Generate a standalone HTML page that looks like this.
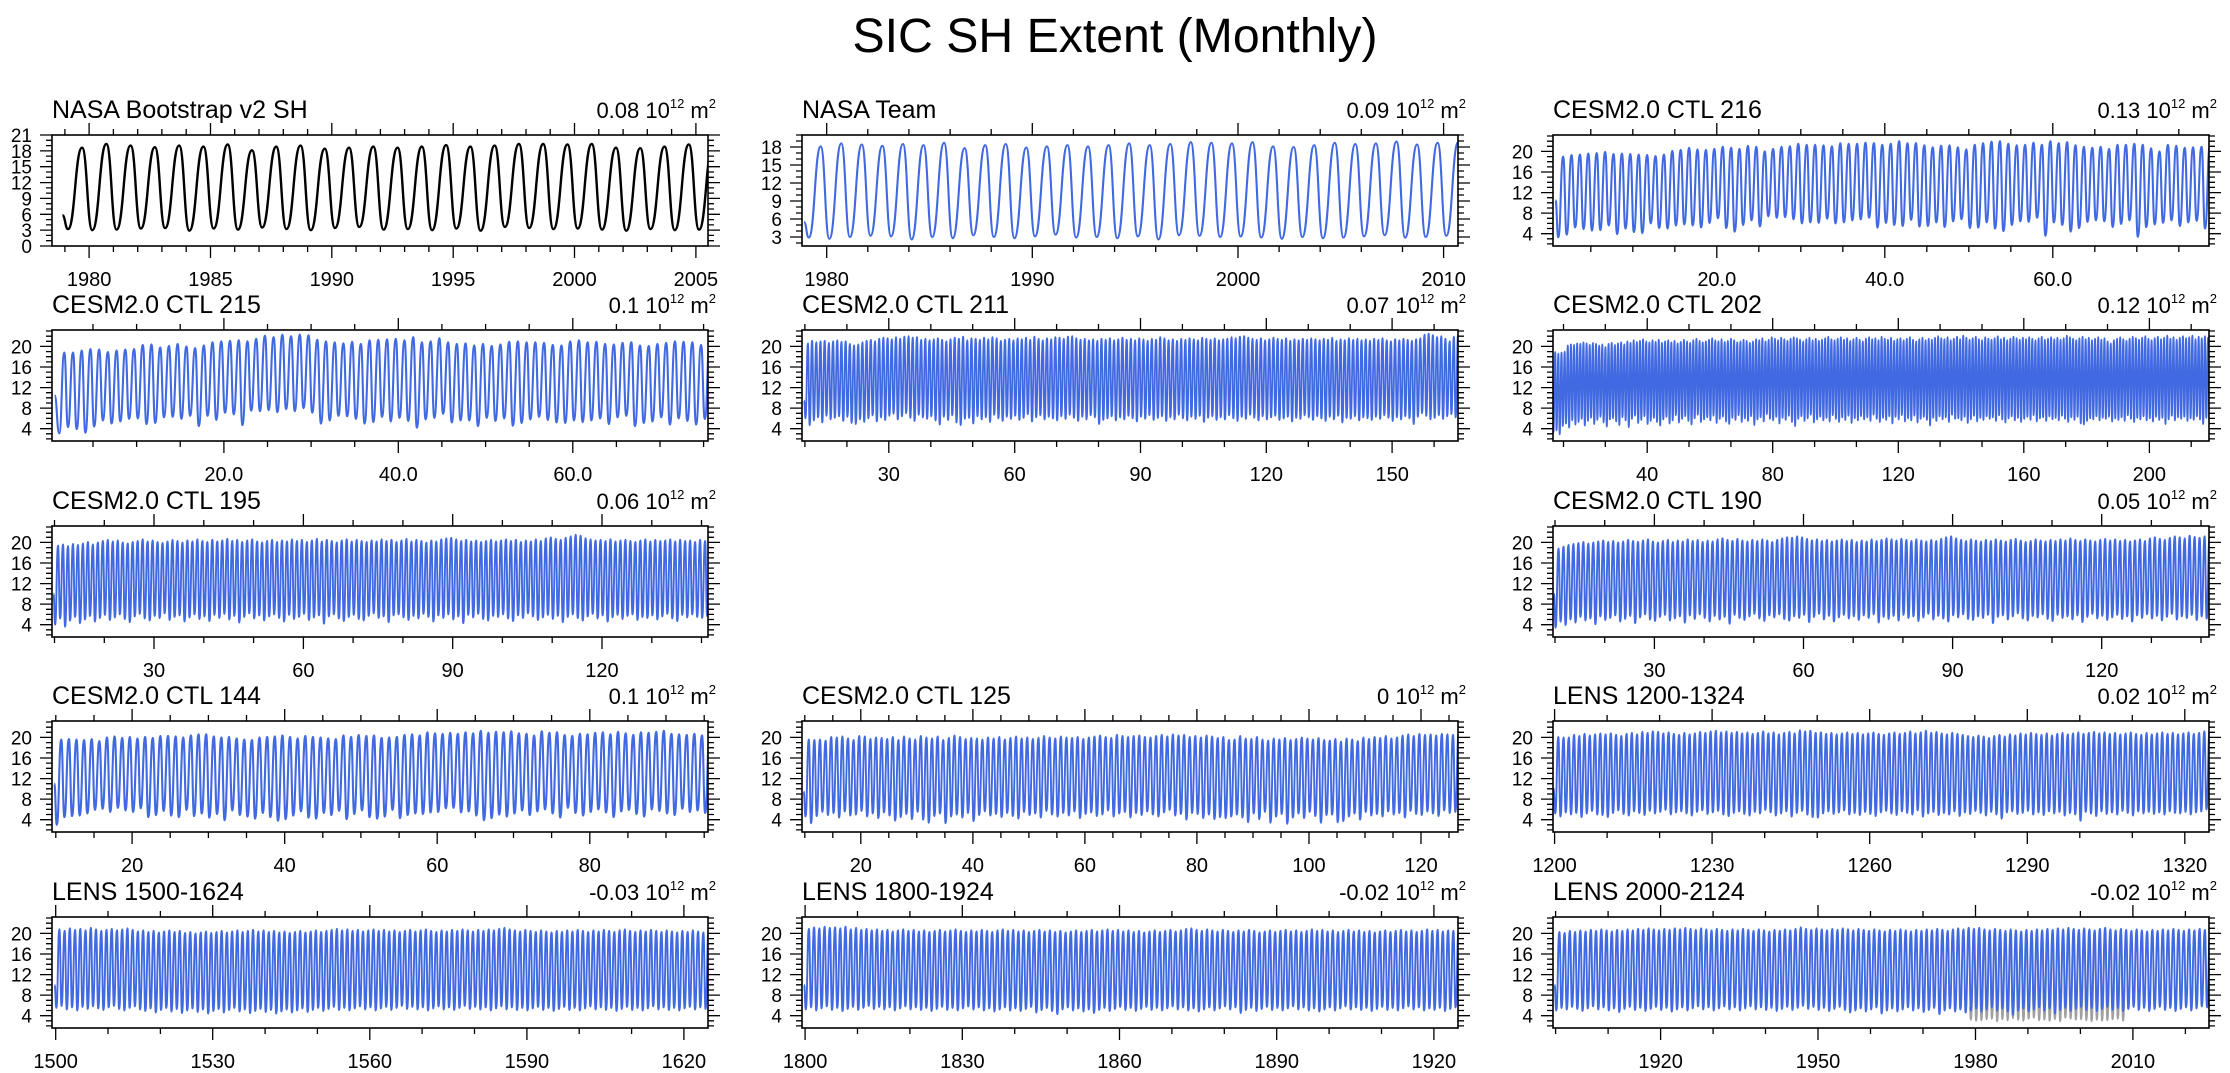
<!DOCTYPE html>
<html><head><meta charset="utf-8"><title>SIC SH Extent (Monthly)</title>
<style>
html,body{margin:0;padding:0;background:#fff;}
svg{display:block;font-family:"Liberation Sans",Arial,sans-serif;}
</style></head>
<body>
<svg id="fig" width="2230" height="1073" viewBox="0 0 2230 1073">
<rect x="0" y="0" width="2230" height="1073" fill="#fff"/>
<text x="1115" y="52" font-size="48" text-anchor="middle" textLength="525" lengthAdjust="spacingAndGlyphs">SIC SH Extent (Monthly)</text>
</svg>
<script>
// ---------- data (per-year seasonal minima / maxima, 10^12 m^2) ----------
const bsTroughs=[3.2,3.0,3.1,3.3,3.4,2.9,3.3,3.1,3.5,3.2,3.0,3.4,3.6,3.1,3.2,3.0,3.3,2.9,3.6,3.4,3.2,3.3,3.1,2.9,3.2,3.0,3.1];
const bsPeaks=[18.6,19.3,19.0,18.7,19.0,18.8,19.2,18.1,18.8,19.0,18.4,18.6,18.8,18.6,18.8,19.1,18.8,19.0,19.3,19.3,19.2,19.3,18.6,18.5,18.8,19.2,19.0];
const ntTroughs=[2.9,2.7,3.0,3.2,3.1,2.6,3.0,2.8,3.3,3.0,2.8,3.1,3.4,2.9,3.0,2.8,3.1,2.6,3.3,3.2,3.0,3.1,2.9,2.7,3.0,2.8,2.9,3.1,3.3,2.9,3.0,3.2];
const ntPeaks=[18.1,18.6,18.4,18.2,18.5,18.3,18.7,17.8,18.3,18.5,17.9,18.1,18.3,18.1,18.3,18.6,18.3,18.5,18.8,18.7,18.6,18.8,18.1,18.0,18.3,18.7,18.5,18.6,18.9,18.4,18.7,18.8];
const c216Peaks=[19.0,19.3,19.4,19.6,19.7,19.9,19.5,19.6,19.5,19.4,19.3,19.1,19.4,20.1,20.3,20.7,20.4,20.3,20.5,20.9,20.7,20.5,21.1,20.9,20.0,20.5,20.9,21.0,21.5,21.3,21.3,21.2,21.0,21.6,21.5,21.5,21.7,21.6,21.3,21.5,22.0,21.6,21.6,21.2,20.8,21.1,21.2,20.8,20.4,21.3,21.6,21.9,22.0,21.5,21.2,21.3,21.7,21.3,22.0,21.6,21.8,21.2,20.9,20.7,20.9,20.5,21.3,21.3,21.5,21.3,20.6,20.0,21.3,21.1,20.7,20.8,20.9,21.2];
const c216Troughs=[3.3,3.8,5.2,4.9,4.6,4.7,5.6,3.9,5.0,4.3,4.1,6.0,5.1,5.0,5.6,5.8,5.6,5.2,6.1,7.0,5.1,4.4,5.7,6.6,5.4,7.4,7.1,7.2,6.8,6.0,6.2,6.1,6.9,6.0,6.2,6.6,6.8,7.1,5.2,6.1,5.7,5.5,6.7,5.4,5.5,6.2,5.3,6.4,6.8,5.1,5.2,6.2,5.0,4.5,5.7,6.4,6.3,7.1,3.6,6.2,5.7,4.4,5.1,6.3,6.6,6.4,5.3,5.9,6.6,3.4,5.3,5.8,6.1,6.6,5.5,6.2,6.5,5.0];
const c215Peaks=[18.8,18.8,19.2,19.5,19.4,18.9,19.2,19.4,19.5,20.3,20.4,19.8,20.1,20.5,20.0,19.7,20.2,20.8,21.0,21.1,21.2,21.0,21.5,22.1,21.8,22.3,22.0,22.3,22.2,21.3,21.0,20.8,20.6,20.9,20.5,21.2,21.3,21.4,21.5,21.2,21.8,20.8,21.0,21.6,20.8,20.5,20.6,20.2,20.5,20.1,20.4,20.9,21.0,20.8,20.8,20.7,20.3,20.2,21.0,21.2,20.8,20.9,20.5,20.4,20.7,20.8,20.2,20.1,20.5,20.7,21.0,20.9,20.8,20.3,20.9,20.9];
const c215Troughs=[3.1,4.3,3.9,3.2,4.4,5.6,5.0,5.4,5.9,6.0,4.9,5.1,6.2,6.3,5.9,6.5,4.5,6.5,5.7,7.1,6.8,4.7,7.5,7.4,7.6,7.2,7.8,7.4,8.0,7.1,5.0,5.6,6.5,6.4,5.9,5.0,5.3,6.3,5.4,6.1,5.5,4.2,5.8,6.1,6.9,5.2,5.6,5.6,4.5,6.1,5.5,6.0,4.6,5.1,5.8,6.3,5.7,5.2,5.1,5.6,5.3,5.6,6.0,4.9,6.2,6.5,4.5,5.1,5.4,6.2,4.8,6.0,5.5,4.8,5.9,4.7];
const c211Peaks=[20.6,21.1,20.8,21.0,21.1,20.7,21.0,21.2,20.9,21.0,20.5,20.2,20.4,20.8,21.1,21.3,21.0,21.5,21.7,21.6,21.4,21.8,21.5,21.9,22.0,21.7,21.8,21.3,21.5,21.2,21.4,21.6,21.3,21.0,21.4,21.7,21.5,21.9,21.2,21.6,21.5,21.3,21.7,21.4,21.8,21.6,21.1,21.3,21.5,21.2,21.6,21.4,21.7,21.3,21.9,21.5,21.2,21.6,21.4,21.8,21.7,21.5,21.9,22.0,21.6,21.3,21.5,21.2,21.4,21.1,21.5,21.3,21.6,21.2,21.4,21.7,21.3,21.5,21.2,21.6,21.4,21.1,21.5,21.3,21.8,21.6,21.2,21.4,21.1,21.5,21.3,21.6,21.4,21.2,21.7,21.5,21.3,21.6,21.2,21.4,21.5,21.8,21.6,21.9,22.0,21.7,21.5,21.3,21.6,21.2,21.4,21.7,21.5,21.3,21.6,21.1,21.4,21.2,21.5,21.3,21.6,21.4,21.2,21.5,21.3,21.7,21.1,21.4,21.2,21.6,21.3,21.5,21.2,21.4,21.1,21.5,21.3,21.6,21.2,21.0,21.4,21.2,21.5,21.3,21.1,21.4,21.6,22.3,22.5,22.2,21.8,22.0,21.5,21.0,21.9,22.2];
const c211Troughs=[6.0,4.7,5.6,6.2,5.2,6.5,5.8,6.1,6.4,5.5,6.3,5.1,4.9,5.8,5.3,6.0,6.6,5.4,6.2,5.7,6.5,6.9,5.8,6.4,7.0,6.1,5.5,6.7,6.2,5.9,6.4,5.6,4.8,6.3,5.7,6.6,5.2,4.7,5.9,6.1,5.0,6.4,5.8,6.2,5.3,6.7,6.0,5.5,6.3,5.9,6.5,5.7,6.1,6.8,5.4,6.2,6.6,5.8,6.3,6.0,5.6,6.4,5.9,6.7,6.1,5.5,6.3,5.8,6.6,6.2,4.9,5.7,6.0,6.4,5.6,6.2,5.8,6.5,6.0,5.4,6.3,5.9,6.6,5.7,6.1,6.4,5.5,6.2,5.8,6.7,6.0,5.6,6.3,5.9,6.5,5.3,6.1,6.4,5.7,6.2,5.8,6.6,6.0,5.5,6.3,5.9,6.7,6.1,5.6,6.4,5.8,6.2,6.5,5.7,6.0,6.3,5.4,6.1,5.9,6.6,6.2,5.7,6.4,6.0,5.5,6.3,5.8,6.5,5.2,6.1,5.9,6.4,5.6,6.2,6.0,5.7,6.3,5.9,6.6,6.1,5.5,6.2,5.8,6.4,6.0,4.9,6.3,7.0,6.5,5.8,6.1,6.6,5.9,6.4,6.8,6.2];
const c202Peaks=[18.9,18.6,18.8,19.0,20.2,20.4,20.3,20.6,20.5,20.8,20.6,20.3,20.7,20.5,20.2,20.4,19.9,20.5,20.7,20.3,20.6,20.8,20.4,21.0,20.7,21.2,20.9,21.1,21.4,21.0,20.8,21.2,20.9,21.3,20.7,21.0,21.2,20.8,21.1,20.6,20.9,21.3,21.0,20.7,21.2,21.5,21.1,20.8,21.0,21.3,21.6,21.2,21.0,21.4,20.9,21.1,21.5,21.2,20.8,21.0,21.3,21.1,20.7,21.0,21.4,21.2,21.6,21.0,21.3,21.8,21.5,21.2,21.7,21.4,21.1,21.5,21.8,21.6,21.3,21.0,21.4,21.7,21.2,21.5,21.1,21.3,21.6,21.9,21.4,21.2,21.5,21.8,21.3,21.6,21.1,21.4,21.7,21.3,21.0,21.5,21.8,21.4,21.6,21.2,21.9,21.5,21.3,21.7,21.1,21.4,21.6,21.2,21.5,21.8,21.3,21.0,21.4,21.7,21.2,21.5,21.3,21.7,22.0,21.6,21.4,21.8,21.2,21.5,21.9,21.4,22.1,21.7,21.3,21.6,21.9,21.4,21.2,21.8,21.5,21.3,21.6,22.0,21.4,21.7,21.2,21.5,21.9,21.6,21.3,21.7,21.4,21.8,21.5,21.2,21.6,21.9,21.3,21.5,21.8,21.4,21.7,21.3,21.6,22.1,21.8,21.5,21.2,21.6,21.9,21.4,21.7,21.2,21.5,21.8,21.3,21.6,21.0,20.6,21.2,21.5,21.8,21.4,21.1,21.5,21.9,21.6,21.3,21.7,22.0,21.5,21.2,21.6,21.9,21.4,21.7,22.1,21.5,21.8,21.3,21.7,22.0,21.6,21.8,22.1,21.4,21.9,21.6,22.0,21.7,21.8];
const c202Troughs=[3.3,3.7,2.9,4.5,5.0,4.2,5.6,4.8,5.3,5.9,4.6,5.5,6.1,4.9,5.7,6.3,5.2,4.4,5.8,6.0,5.4,4.7,6.2,5.6,4.3,5.9,6.5,5.1,5.7,6.4,4.9,5.5,6.1,5.3,4.6,5.8,6.3,5.0,5.6,6.6,5.2,5.9,6.4,5.5,4.8,6.0,6.7,5.3,5.8,6.2,5.6,6.5,5.1,5.9,6.3,5.4,4.9,6.1,5.7,6.6,5.3,6.0,5.5,6.4,4.7,5.8,6.2,5.4,6.8,5.9,5.6,6.3,5.0,6.1,5.7,6.5,5.3,4.5,5.9,6.4,5.5,6.0,6.7,5.2,5.8,6.3,5.6,6.1,5.4,6.6,5.9,5.3,6.2,5.7,6.5,5.1,6.0,5.6,6.4,5.8,6.2,5.5,6.7,5.9,5.3,6.1,5.7,6.4,5.0,6.3,5.8,6.6,5.4,6.0,5.6,6.5,5.2,5.9,6.3,5.7,4.6,6.1,5.5,6.4,5.8,6.2,5.3,6.7,5.9,6.0,5.6,6.3,5.1,5.8,6.5,5.4,6.1,5.7,6.4,5.9,6.2,5.5,6.6,5.8,5.2,6.0,6.4,5.6,6.1,5.3,5.9,6.3,5.7,6.6,5.4,6.0,6.2,5.5,6.4,5.8,6.1,5.6,6.5,5.9,5.3,6.2,5.7,6.3,5.0,4.8,5.5,6.0,5.8,6.4,5.6,6.1,5.9,6.3,5.4,6.0,5.7,6.2,5.5,6.6,5.9,5.3,6.1,5.8,6.4,5.6,6.0,5.4,6.3,5.7,6.1,4.9,5.8,6.5,5.6,6.2,5.9,6.3,5.5,6.0,5.7,6.4,5.8,4.9,6.1,5.6];
const c195Peaks=[19.4,19.6,19.3,19.7,19.5,19.8,20.1,19.6,20.0,20.3,20.5,20.2,20.4,20.0,19.8,20.1,20.3,20.6,20.2,20.4,20.1,19.9,20.2,20.5,20.3,20.0,20.4,20.2,20.6,20.3,20.1,20.5,20.2,20.4,20.7,20.3,20.5,20.1,20.4,20.6,20.2,20.0,20.3,20.5,20.1,20.4,20.2,20.6,20.3,20.5,20.1,20.4,20.7,20.2,20.5,20.3,20.0,20.4,20.6,20.2,20.5,20.3,20.1,20.4,20.2,20.6,20.3,20.5,20.1,20.4,20.7,20.2,20.5,20.3,20.0,20.4,20.2,20.6,20.8,20.9,20.6,20.3,20.5,20.2,20.4,20.1,20.3,20.5,20.2,20.4,20.6,20.3,20.5,20.1,20.4,20.2,20.6,20.3,20.8,21.0,20.7,20.5,20.9,21.2,21.5,21.3,20.8,20.6,20.4,20.5,20.3,20.6,20.2,20.4,20.5,20.3,20.1,20.4,20.6,20.2,20.5,20.3,20.4,20.6,20.2,20.5,20.3,20.4,20.1,20.5,20.3,20.4];
const c195Troughs=[4.0,5.2,3.6,4.8,5.5,4.3,5.0,5.7,4.6,5.3,5.9,4.9,5.4,6.0,5.1,4.5,5.6,6.1,5.2,4.8,5.7,5.3,6.2,4.9,5.5,5.8,4.6,5.4,6.0,5.1,5.6,4.7,5.9,5.3,6.1,5.0,5.7,4.4,5.5,6.2,5.2,5.8,4.8,5.6,6.0,5.3,4.6,5.9,5.1,5.5,6.1,4.9,5.4,5.8,4.2,5.6,6.0,5.2,4.7,5.5,5.9,5.1,4.8,5.7,6.2,5.3,5.6,4.5,5.8,6.0,5.4,4.9,5.7,5.2,6.1,5.5,4.6,5.8,5.3,6.0,5.0,5.6,4.3,5.9,5.4,6.1,5.1,4.8,5.7,5.5,6.0,5.2,4.7,5.8,5.3,6.2,5.6,4.9,5.4,5.9,5.1,5.7,4.5,5.5,6.0,5.3,4.8,5.6,6.1,5.2,5.8,4.6,5.4,5.9,5.1,5.7,6.0,4.9,5.5,5.3,5.8,5.0,5.6,6.1,5.2,4.7,5.9,5.4,6.0,5.5,5.3,5.7];
const c190Peaks=[18.8,19.2,19.5,19.7,19.9,20.1,19.8,20.0,20.2,20.4,20.1,20.3,20.0,20.2,20.5,20.3,20.1,20.4,20.6,20.2,20.0,20.3,20.5,20.1,20.4,20.2,20.6,20.3,20.5,20.1,20.4,20.2,20.6,20.8,20.5,20.3,20.7,20.4,20.2,20.5,20.3,20.6,20.4,20.1,20.5,20.8,21.0,20.9,21.2,21.0,20.7,20.4,20.6,20.3,20.5,20.2,20.4,20.6,20.3,20.5,20.1,20.4,20.2,20.6,20.3,20.5,20.8,20.6,20.4,20.7,20.5,20.3,20.6,20.4,20.2,20.5,20.3,20.7,21.0,21.2,20.8,20.5,20.3,20.6,20.4,20.2,20.5,20.3,20.6,20.4,20.2,20.5,20.7,20.4,20.1,20.3,20.6,20.4,20.2,20.5,20.3,20.6,20.4,20.8,20.5,20.3,20.6,20.4,20.2,20.5,20.7,20.4,20.6,20.3,20.5,20.2,20.4,20.6,20.3,20.8,21.0,20.7,20.5,20.9,21.2,21.0,20.8,21.3,21.1,20.9,21.2,21.0];
const c190Troughs=[3.4,4.6,3.9,5.0,4.4,5.5,4.8,5.2,4.1,5.6,4.9,5.3,5.8,4.6,5.1,5.7,4.3,5.4,6.0,5.0,4.7,5.5,5.9,4.8,5.2,5.6,4.4,5.8,5.1,6.0,5.3,4.6,5.7,5.0,5.5,4.2,5.9,5.3,4.9,5.6,6.1,5.2,4.7,5.8,5.4,6.0,5.1,4.8,5.6,5.3,5.9,4.5,5.5,6.1,5.0,5.7,4.6,5.4,5.9,5.2,5.6,4.9,5.8,5.3,6.0,4.4,5.5,5.1,5.7,4.8,5.9,5.3,5.6,4.7,5.4,6.1,5.0,5.7,5.2,4.6,5.8,5.4,6.0,5.1,4.9,5.6,5.3,5.9,4.3,5.5,5.8,5.0,5.6,6.2,5.2,4.8,5.7,5.4,6.0,5.1,4.7,5.9,5.3,5.6,5.0,5.8,4.5,5.5,6.1,5.2,5.7,4.9,5.4,5.9,5.1,5.6,4.6,5.8,5.3,6.0,5.2,5.7,4.8,5.5,6.1,5.0,5.6,5.3,5.9,4.9,5.6,5.2];
const c144Peaks=[19.6,19.7,19.6,19.5,19.7,19.3,20.0,20.2,19.9,20.1,19.8,20.1,19.9,20.3,20.3,20.2,20.0,20.4,20.6,20.6,20.2,20.0,20.1,19.8,19.6,19.5,20.0,20.1,20.2,20.4,20.1,19.8,20.3,20.1,20.0,19.8,19.7,20.4,20.1,20.5,20.3,20.4,19.9,20.0,20.1,20.5,20.6,20.4,21.0,20.8,20.7,20.9,20.7,21.0,20.8,21.3,20.9,21.1,21.0,21.2,20.8,20.7,20.4,21.2,20.9,21.0,20.5,20.3,20.7,20.6,20.9,21.0,20.6,21.1,20.8,20.5,21.0,20.9,21.1,21.3,20.7,20.6,20.5,20.7,20.4,20.6];
const c144Troughs=[3.0,4.5,4.7,4.8,5.2,5.9,6.1,5.5,6.3,5.8,5.5,6.2,4.5,4.9,5.7,4.8,4.5,5.9,4.7,5.2,4.4,5.1,3.9,5.8,4.9,4.6,4.2,5.3,4.5,3.8,4.1,4.8,5.6,4.4,4.2,5.3,4.9,5.7,4.1,5.1,5.8,4.5,4.2,4.6,5.9,4.3,4.9,5.2,5.1,5.4,5.5,6.2,6.3,5.4,5.6,4.8,3.9,4.3,5.0,4.6,5.2,5.8,4.9,5.6,6.0,5.2,4.4,6.3,5.3,4.8,5.5,6.0,5.4,4.5,5.6,5.9,5.1,4.6,6.0,5.7,5.2,4.9,6.1,5.5,5.8,5.3];
const c125Peaks=[19.6,19.5,19.6,19.4,20.1,20.0,20.2,19.8,19.5,20.3,20.2,19.7,20.0,19.9,19.7,20.1,19.5,20.2,19.8,19.6,20.3,20.0,19.8,20.2,19.5,19.9,20.4,20.1,19.7,19.9,19.8,19.6,20.0,19.8,20.1,19.6,19.9,20.2,19.8,20.0,19.7,19.9,20.3,20.0,19.8,20.2,20.0,19.9,20.1,19.7,20.0,20.2,20.4,20.1,19.9,20.5,20.3,20.1,20.3,20.4,20.1,20.0,20.3,20.5,20.2,20.6,20.4,20.5,20.1,20.3,20.0,20.4,20.2,19.9,20.1,19.5,19.6,20.3,19.8,19.7,20.1,19.6,19.4,19.8,19.6,19.9,19.5,19.7,20.0,19.8,19.6,19.9,19.5,19.4,19.7,19.2,19.8,19.6,19.3,20.0,19.7,20.1,19.9,20.3,19.8,20.0,20.4,20.6,20.3,20.7,20.5,20.6,20.4,20.7,20.6,20.5,20.8];
const c125Troughs=[4.6,3.3,4.7,5.5,4.9,5.3,4.4,5.6,4.8,5.0,5.7,4.6,5.2,4.3,5.4,4.8,3.8,4.5,5.1,4.1,5.5,4.0,3.4,4.7,5.2,3.3,4.6,5.0,4.4,5.3,3.7,4.9,5.6,4.8,5.1,4.5,5.3,4.7,4.2,5.5,4.9,5.2,4.4,5.7,5.0,4.6,5.3,4.8,5.6,4.3,5.1,5.4,4.7,5.0,5.8,4.6,5.2,5.5,4.4,5.3,4.9,5.6,5.0,4.6,5.4,5.9,4.8,5.1,4.0,5.3,5.1,4.3,5.0,4.1,4.5,4.3,4.6,5.0,4.4,3.5,5.2,4.1,5.5,3.4,4.6,5.1,3.2,4.4,5.2,4.3,5.5,4.7,3.4,4.9,5.0,3.5,3.7,4.6,5.2,4.0,5.5,4.8,5.1,4.6,5.6,5.0,5.3,4.4,5.7,5.1,4.9,5.6,5.2,4.7,5.8,5.3,5.5];
const l1200Peaks=[20.1,20.0,20.0,20.5,20.3,20.7,20.4,20.6,20.8,20.6,20.8,20.5,20.3,20.7,20.9,20.6,21.1,20.9,21.2,21.1,20.8,21.0,20.7,20.5,20.9,20.6,20.8,21.1,20.9,21.2,21.3,21.0,21.2,20.9,21.1,20.8,21.0,20.7,20.9,21.2,20.8,21.0,20.6,20.9,21.1,20.8,21.4,21.2,21.3,20.9,21.0,20.7,20.9,20.6,20.8,21.0,20.7,20.9,20.6,20.8,21.0,20.7,20.5,20.8,21.0,20.7,20.9,21.2,20.8,21.0,21.3,20.9,21.1,20.8,20.6,20.9,20.7,20.5,20.3,20.1,20.4,20.2,19.9,20.3,20.5,20.2,20.6,20.4,20.8,20.6,20.9,20.7,20.5,20.8,20.4,20.7,20.9,20.6,20.8,21.0,20.7,20.9,21.1,20.8,21.0,20.7,20.9,20.6,20.8,21.0,20.7,20.5,20.9,20.6,20.8,21.0,20.7,20.9,20.6,20.8,21.0,20.7,20.9,21.2,21.4];
const l1200Troughs=[5.2,4.6,5.4,5.0,5.3,4.5,5.2,5.7,5.0,4.9,4.5,5.3,5.8,5.1,4.8,5.6,5.3,4.9,5.7,5.2,5.5,5.9,5.0,5.4,5.6,5.2,4.8,5.5,5.8,5.1,5.4,5.7,5.0,4.7,5.3,5.6,5.1,4.8,5.5,5.2,5.9,5.4,4.8,5.2,5.6,4.6,5.3,5.7,5.0,4.5,4.4,5.2,5.6,5.1,5.4,5.8,5.0,5.3,4.9,5.5,5.1,4.7,5.4,5.7,5.2,4.9,5.6,5.3,5.0,5.8,4.6,5.2,5.5,4.9,5.3,5.0,5.6,4.7,5.4,5.1,5.7,5.3,4.8,5.5,5.0,4.2,5.4,5.6,5.1,5.3,5.7,5.0,5.4,4.9,5.6,5.2,5.5,4.8,5.3,5.0,3.8,5.5,5.2,4.7,5.6,5.1,5.4,5.0,5.7,5.3,4.8,5.6,5.2,5.5,5.1,5.4,5.0,5.6,5.3,5.2,5.5,5.0,5.4,5.6,6.0];
const l1500Peaks=[20.8,20.5,21.0,20.7,20.9,20.6,21.1,20.8,20.5,20.7,20.9,20.6,20.8,21.0,20.7,20.4,20.6,20.3,20.5,20.2,20.4,20.6,20.3,20.5,20.1,20.3,20.0,20.2,20.4,20.1,20.3,20.5,20.2,20.4,20.6,20.3,20.5,20.7,20.4,20.6,20.3,20.5,20.2,20.4,20.1,20.3,20.5,20.2,20.4,20.6,20.3,20.5,20.7,20.9,20.6,20.8,20.5,20.7,20.4,20.6,20.8,20.5,20.7,20.4,20.6,20.3,20.5,20.7,20.4,20.6,20.8,20.5,20.3,20.6,20.4,20.7,20.5,20.8,20.6,20.4,20.7,20.5,20.8,20.6,20.9,21.1,20.8,20.6,20.4,20.7,20.5,20.3,20.6,20.4,20.2,20.5,20.3,20.6,20.4,20.7,20.5,20.3,20.6,20.4,20.7,20.5,20.3,20.6,20.8,20.5,20.3,20.6,20.4,20.7,20.5,20.3,20.6,20.4,20.2,20.5,20.3,20.6,20.4,20.2,20.5];
const l1500Troughs=[5.5,5.9,5.2,5.6,5.0,5.7,5.3,5.8,5.4,5.1,5.6,5.9,5.3,5.0,5.5,5.8,5.2,4.9,5.4,4.6,5.1,5.5,4.8,5.3,4.5,5.0,5.4,4.7,5.2,4.4,4.9,5.3,4.6,5.1,5.5,4.8,5.2,4.5,4.9,5.3,4.7,5.1,4.4,4.8,5.2,4.6,5.0,5.4,4.7,5.1,5.5,4.9,5.3,5.7,5.1,5.5,5.0,5.4,5.8,5.2,5.6,5.0,5.4,5.7,5.1,5.5,5.9,5.3,5.7,5.2,5.6,5.0,5.4,5.8,5.2,5.6,5.1,5.5,5.9,5.3,5.7,5.2,5.6,5.0,5.4,5.8,5.2,5.6,5.1,5.5,5.0,5.4,5.7,5.1,5.5,4.9,5.3,5.7,5.1,5.5,5.0,5.4,5.8,5.2,5.6,5.1,5.5,4.9,5.3,5.7,5.1,5.5,5.0,5.4,5.8,5.2,5.6,5.1,5.5,5.0,5.4,5.7,5.2,5.6,5.3];
const l1800Peaks=[20.9,21.2,21.0,21.3,21.1,21.2,21.0,21.3,20.8,21.1,20.7,20.9,20.6,20.8,20.5,20.7,20.4,20.6,20.8,20.5,20.7,20.4,20.6,20.3,20.5,20.7,20.4,20.6,20.8,20.5,20.3,20.6,20.4,20.7,20.5,20.3,20.6,20.8,20.5,20.7,20.4,20.6,20.3,20.5,20.7,20.4,20.6,20.3,20.5,20.2,20.4,20.6,20.3,20.5,20.7,20.4,20.6,20.8,20.5,20.7,20.4,20.6,20.3,20.5,20.2,20.4,20.6,20.3,20.5,20.7,20.4,20.6,20.9,21.0,20.7,20.5,20.8,20.6,20.4,20.7,20.5,20.3,20.6,20.4,20.7,20.5,20.2,20.4,20.6,20.3,20.5,20.7,20.4,20.6,20.3,20.5,20.8,20.5,20.7,20.4,20.6,20.3,20.5,20.7,20.4,20.6,20.3,20.5,20.2,20.4,20.6,20.3,20.5,20.7,20.4,20.6,20.3,20.5,20.8,20.5,20.7,20.4,20.6,20.5,20.3];
const l1800Troughs=[5.2,5.6,5.0,5.4,5.8,5.1,5.5,4.9,5.3,5.7,5.1,5.5,5.9,5.3,5.7,5.2,5.6,5.0,5.4,5.8,5.2,5.6,5.1,5.5,4.9,5.3,5.7,5.1,5.5,5.0,5.4,5.8,5.2,5.6,5.0,5.4,4.8,5.2,5.6,5.0,5.4,4.9,5.3,5.7,4.6,5.1,5.5,4.9,4.3,5.2,5.6,5.0,5.4,4.8,5.2,4.5,5.1,5.5,4.9,5.3,5.7,5.1,5.5,4.9,5.3,5.7,5.1,5.5,5.0,5.4,5.8,5.2,5.6,5.0,5.4,4.8,5.2,5.6,5.0,5.4,5.8,5.2,5.6,4.5,5.1,5.5,4.9,5.3,5.7,5.1,5.5,5.0,5.4,5.8,5.2,5.6,5.0,5.4,4.8,5.2,5.6,5.0,5.4,5.8,5.2,5.6,5.1,5.5,4.9,5.3,5.7,5.1,5.5,5.0,5.4,5.8,5.2,5.6,5.0,5.4,5.1,5.5,4.9,5.3,5.6];
const l2000Peaks=[20.3,20.1,20.5,20.3,20.6,20.4,20.7,20.5,20.8,20.6,20.4,20.7,20.5,20.8,20.6,20.9,20.7,21.0,20.8,20.6,20.9,20.7,21.0,20.8,21.1,20.9,20.7,21.0,20.8,20.6,20.9,20.7,20.5,20.8,20.6,20.9,20.7,20.5,20.8,20.6,20.4,20.7,20.5,20.8,20.6,20.9,21.2,20.9,20.7,21.0,20.8,20.6,20.9,20.7,21.0,20.8,20.6,20.9,20.7,20.5,20.8,20.6,20.4,20.7,20.5,20.8,20.6,20.4,20.7,20.5,20.8,20.6,20.9,20.7,20.5,20.8,21.0,20.8,21.1,20.9,21.1,20.8,20.6,20.9,20.7,20.5,20.8,20.6,20.4,20.7,20.5,20.8,20.6,20.9,20.7,21.0,20.8,21.1,20.9,20.7,21.0,20.8,20.6,20.9,21.1,20.8,20.6,20.9,20.7,20.5,20.8,20.6,20.4,20.7,20.5,20.8,20.6,20.9,20.7,20.5,20.8,20.6,20.9,20.7,20.5];
const l2000Troughs=[5.0,5.5,5.2,5.7,5.3,4.9,5.4,5.8,5.2,5.6,5.0,5.4,4.7,5.3,5.7,5.1,5.5,4.9,5.3,5.7,5.1,5.5,4.8,5.2,5.6,5.0,5.4,5.8,5.2,5.6,5.0,5.4,5.8,5.2,5.6,5.0,5.4,5.8,5.2,5.6,5.1,5.5,4.9,5.3,5.7,5.1,5.5,5.9,5.3,5.7,5.1,5.5,4.9,5.3,5.7,5.1,4.6,5.0,5.4,4.8,5.2,5.6,4.4,5.0,5.4,4.8,5.2,5.6,5.0,5.4,4.7,5.1,5.5,4.3,5.0,5.4,4.8,5.2,4.6,5.0,5.4,4.8,5.2,5.6,5.0,5.4,4.8,4.2,5.0,5.4,4.8,5.2,5.6,5.0,5.4,4.4,5.1,5.5,4.9,5.3,5.7,5.1,5.5,4.9,5.3,5.7,5.1,5.5,4.9,5.3,5.7,5.1,5.5,4.9,5.3,5.7,5.1,5.5,4.9,5.3,5.6,5.0,5.4,5.8,5.6];
const obsPeaks=[18.6,19.3,19.0,18.7,19.0,18.8,19.2,18.1,18.8,19.0,18.4,18.6,18.8,18.6,18.8,19.1,18.8,19.0,19.3,19.3,19.2,19.3,18.6,18.5,18.8,19.2,19.0,19.1,19.3,18.9];
const obsTroughs=[3.2,3.0,3.1,3.3,3.4,2.9,3.3,3.1,3.5,3.2,3.0,3.4,3.6,3.1,3.2,3.0,3.3,2.9,3.6,3.4,3.2,3.3,3.1,2.9,3.2,3.0,3.1,3.3,3.4,3.0];
const panelTitles=['NASA Bootstrap v2 SH','NASA Team','CESM2.0 CTL 216','CESM2.0 CTL 215','CESM2.0 CTL 211','CESM2.0 CTL 202','CESM2.0 CTL 195','CESM2.0 CTL 190','CESM2.0 CTL 144','CESM2.0 CTL 125','LENS 1200-1324','LENS 1500-1624','LENS 1800-1924','LENS 2000-2124'];
const panelStats=['0.08','0.09','0.13','0.1','0.07','0.12','0.06','0.05','0.1','0','0.02','-0.03','-0.02','-0.02'];
const firstYears=[1979,1979,1,1,10,10,10,10,10,10,1200,1500,1800,1900];
const startValues=[5.8,5.5,10.5,10.5,9.5,9.0,10.0,10.0,11.0,9.5,10.0,10.0,10.0,10.0];

// ---------- layout (positions / styles) ----------
const colLeft=[52,802,1553], rowTop=[135,330,526,721,917], W=656, H=111;
const L=[
 {d:[bsPeaks,bsTroughs],c:0,r:0,x0:1978.47,x1:2005.5,xmj:5,xmn:1,dec:0,y0:0,y1:21,ymS:0,ymE:21,ymj:3,col:'#000',lw:2.4,sx:1978.9},
 {d:[ntPeaks,ntTroughs],c:1,r:0,x0:1978.8,x1:2010.7,xmj:10,xmn:2,dec:0,y0:1.5,y1:20,ymS:3,ymE:18,ymj:3,col:'#4169e1',lw:2.1,sx:1978.9},
 {d:[c216Peaks,c216Troughs],c:2,r:0,x0:0.5,x1:78.6,xmj:20,xmn:5,dec:1,y0:1.6,y1:23.2,ymS:4,ymE:20,ymj:4,col:'#4169e1',lw:2.1,sx:0.8},
 {d:[c215Peaks,c215Troughs],c:0,r:1,x0:0.3,x1:75.5,xmj:20,xmn:5,dec:1,y0:1.6,y1:23.2,ymS:4,ymE:20,ymj:4,col:'#4169e1',lw:2.1,sx:0.6},
 {d:[c211Peaks,c211Troughs],c:1,r:1,x0:9.3,x1:165.7,xmj:30,xmn:10,dec:0,y0:1.6,y1:23.2,ymS:4,ymE:20,ymj:4,col:'#4169e1',lw:1.8,sx:9.8},
 {d:[c202Peaks,c202Troughs],c:2,r:1,x0:10,x1:219,xmj:40,xmn:40/3,dec:0,y0:1.6,y1:23.2,ymS:4,ymE:20,ymj:4,col:'#4169e1',lw:1.7,sx:10},
 {d:[c195Peaks,c195Troughs],c:0,r:2,x0:9.5,x1:141.3,xmj:30,xmn:10,dec:0,y0:1.6,y1:23.2,ymS:4,ymE:20,ymj:4,col:'#4169e1',lw:1.9,sx:9.8},
 {d:[c190Peaks,c190Troughs],c:2,r:2,x0:9.6,x1:141.6,xmj:30,xmn:10,dec:0,y0:1.6,y1:23.2,ymS:4,ymE:20,ymj:4,col:'#4169e1',lw:1.9,sx:9.8},
 {d:[c144Peaks,c144Troughs],c:0,r:3,x0:9.5,x1:95.5,xmj:20,xmn:5,dec:0,y0:1.6,y1:23.2,ymS:4,ymE:20,ymj:4,col:'#4169e1',lw:2.1,sx:9.8},
 {d:[c125Peaks,c125Troughs],c:1,r:3,x0:9.5,x1:126.6,xmj:20,xmn:5,dec:0,y0:1.6,y1:23.2,ymS:4,ymE:20,ymj:4,col:'#4169e1',lw:1.9,sx:9.8},
 {d:[l1200Peaks,l1200Troughs],c:2,r:3,x0:1199.7,x1:1324.6,xmj:30,xmn:10,dec:0,y0:1.6,y1:23.2,ymS:4,ymE:20,ymj:4,col:'#4169e1',lw:1.9,sx:1199.8},
 {d:[l1500Peaks,l1500Troughs],c:0,r:4,x0:1499.3,x1:1624.6,xmj:30,xmn:10,dec:0,y0:1.6,y1:23.2,ymS:4,ymE:20,ymj:4,col:'#4169e1',lw:1.9,sx:1499.8},
 {d:[l1800Peaks,l1800Troughs],c:1,r:4,x0:1799.4,x1:1924.6,xmj:30,xmn:10,dec:0,y0:1.6,y1:23.2,ymS:4,ymE:20,ymj:4,col:'#4169e1',lw:1.9,sx:1799.8},
 {d:[l2000Peaks,l2000Troughs],c:2,r:4,x0:1899.5,x1:2024.5,xmj:30,xmn:10,dec:0,y0:1.6,y1:23.2,ymS:4,ymE:20,ymj:4,col:'#4169e1',lw:1.9,sx:1899.8,obs:true}
];

const svg=document.getElementById('fig');
const NS=svg.namespaceURI;
function mk(tag,parent,attrs){const e=document.createElementNS(NS,tag);for(const k in attrs)e.setAttribute(k,attrs[k]);parent.appendChild(e);return e;}
function ticks(a,b,step){const out=[];let v=Math.ceil((a-1e-6)/step)*step;for(;v<=b+1e-6;v+=step)out.push(+v.toFixed(6));return out;}

function seriesPath(peaks,troughs,first,sx,sv,X,Y){
  const pts=[[sx,sv]];
  const n=Math.max(peaks.length,troughs.length);
  for(let i=0;i<n;i++){
    if(i<troughs.length)pts.push([first+i+0.13,troughs[i]]);
    if(i<peaks.length)pts.push([first+i+0.71,peaks[i]]);
  }
  let d='M'+X(pts[0][0]).toFixed(2)+','+Y(pts[0][1]).toFixed(2);
  for(let i=1;i<pts.length;i++){
    const xa=X(pts[i-1][0]),ya=Y(pts[i-1][1]),xb=X(pts[i][0]),yb=Y(pts[i][1]),h=(xb-xa)/2;
    d+='C'+(xa+h).toFixed(2)+','+ya.toFixed(2)+' '+(xb-h).toFixed(2)+','+yb.toFixed(2)+' '+xb.toFixed(2)+','+yb.toFixed(2);
  }
  return d;
}

L.forEach((p,i)=>{
  const left=colLeft[p.c], top=rowTop[p.r], right=left+W, bot=top+H;
  const X=v=>left+(v-p.x0)/(p.x1-p.x0)*W;
  const Y=v=>bot-(v-p.y0)/(p.y1-p.y0)*H;
  const g=mk('g',svg,{});
  
  
  const cp=mk('clipPath',g,{id:'clip'+i});
  mk('rect',cp,{x:left,y:top,width:W,height:H});
  const t=mk('text',g,{x:left,y:top-17,'font-size':25});
  
  
  t.textContent=panelTitles[i];
  const st=mk('text',g,{x:right+8,y:top-17,'font-size':22,'text-anchor':'end'});
  
  
  st.appendChild(document.createTextNode(panelStats[i]+' 10'));
  const s1=mk('tspan',st,{dy:-10,'font-size':13});s1.textContent='12';
  const s2=mk('tspan',st,{dy:10});s2.textContent=' m';
  const s3=mk('tspan',st,{dy:-10,'font-size':13});s3.textContent='2';
  if(p.obs){
    const o=mk('path',g,{d:seriesPath(obsPeaks,obsTroughs,1979,1978.9,5.8,X,Y),fill:'none',stroke:'#a0a0a0','stroke-width':1.8,'clip-path':'url(#clip'+i+')'});
    
    
  }
  const line=mk('path',g,{d:seriesPath(p.d[0],p.d[1],firstYears[i],p.sx,startValues[i],X,Y),fill:'none',stroke:p.col,'stroke-width':p.lw,'stroke-linejoin':'round','clip-path':'url(#clip'+i+')'});
  
  
  let tk='';
  ticks(p.x0,p.x1,p.xmn).forEach(v=>{const x=X(v).toFixed(1);tk+=`M${x},${top}V${top-6}M${x},${bot}V${bot+6}`;});
  ticks(p.x0,p.x1,p.xmj).forEach(v=>{const x=X(v).toFixed(1);tk+=`M${x},${top}V${top-12}M${x},${bot}V${bot+12}`;});
  const ymn=ticks(Math.ceil(p.y0),p.y1,1);
  ymn.forEach(v=>{const y=Y(v).toFixed(1);tk+=`M${left},${y}H${left-6}M${right},${y}H${right+6}`;});
  const ymj=ticks(p.ymS,p.ymE,p.ymj);
  ymj.forEach(v=>{const y=Y(v).toFixed(1);tk+=`M${left},${y}H${left-12}M${right},${y}H${right+12}`;});
  const tp=mk('path',g,{d:tk,stroke:'#000','stroke-width':1.3,fill:'none'});
  
  
  const box=mk('rect',g,{x:left,y:top,width:W,height:H,fill:'none',stroke:'#000','stroke-width':1.6});
  
  
  ticks(p.x0,p.x1,p.xmj).forEach(v=>{
    const tl=mk('text',g,{x:X(v),y:bot+40,'font-size':20,'text-anchor':'middle'});
    
    
    tl.textContent=p.dec?v.toFixed(p.dec):String(Math.round(v));
  });
  ymj.forEach(v=>{
    const yl=mk('text',g,{x:left-20,y:Y(v)+7,'font-size':19,'text-anchor':'end'});
    
    
    yl.textContent=String(v);
  });
});
</script>
</body></html>
